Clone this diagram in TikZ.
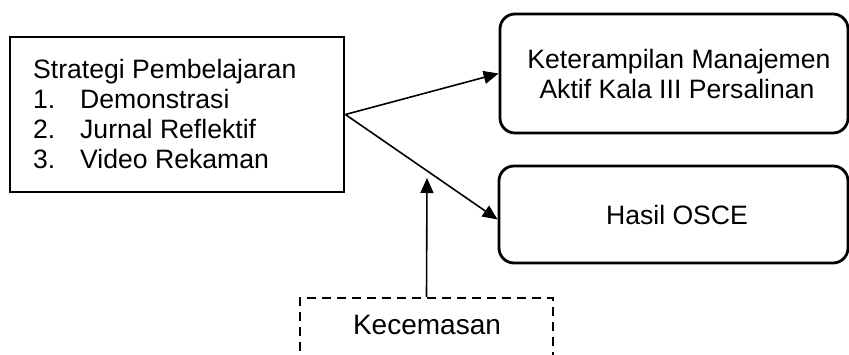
\documentclass[tikz,border=0pt]{standalone}
\usepackage{fontspec}
\setmainfont{Liberation Sans}
\usetikzlibrary{arrows.meta}
\begin{document}
\begin{tikzpicture}[x=1pt,y=-1pt,
  box/.style={draw, line width=2.8pt, inner sep=0pt},
  rbox/.style={box, rounded corners=15pt},
  txt/.style={inner sep=0pt, font=\fontsize{26.6}{30}\selectfont},
  arr/.style={line width=1.6pt, -{Triangle[length=15pt,width=13pt]}}]
\useasboundingbox (0,0) rectangle (849,355);
\clip (0,0) rectangle (849,355);
% left box
\node[box, minimum width=334pt, minimum height=155pt] (strat) at (177,114.5) {};
\node[txt, anchor=base west] (s0) at (33,79) {Strategi Pembelajaran};
\node[txt, anchor=base west] (s1) at (33,109) {\makebox[47pt][l]{1.}Demonstrasi};
\node[txt, anchor=base west] (s2) at (33,139) {\makebox[47pt][l]{2.}Jurnal Reflektif};
\node[txt, anchor=base west] (s3) at (33,169) {\makebox[47pt][l]{3.}Video Rekaman};
% right boxes
\node[rbox, minimum width=348pt, minimum height=119pt] (ket) at (674,73.5) {};
\node[txt, anchor=base] (k1) at (679,69) {Keterampilan Manajemen};
\node[txt, anchor=base] (k2) at (677,99) {Aktif Kala III Persalinan};
\node[rbox, minimum width=349pt, minimum height=97pt] (osce) at (673.5,214.5) {};
\node[txt, anchor=base] (o1) at (677,225) {Hasil OSCE};
% dashed box
\node[box, dash pattern=on 9pt off 6pt, line width=2.4pt, minimum width=253pt, minimum height=80pt, anchor=north] (kec) at (426.5,297) {};
\node[txt, font=\fontsize{28}{32}\selectfont, anchor=base] (kt) at (427,335) {Kecemasan};
% arrows
\coordinate (tip) at (427,178);
\draw[arr] (strat.east) -- (ket.west);
\draw[arr] (strat.east) -- ([yshift=-5pt]osce.west);
\draw[arr] (kec.north) -- (tip);
\end{tikzpicture}
\end{document}
